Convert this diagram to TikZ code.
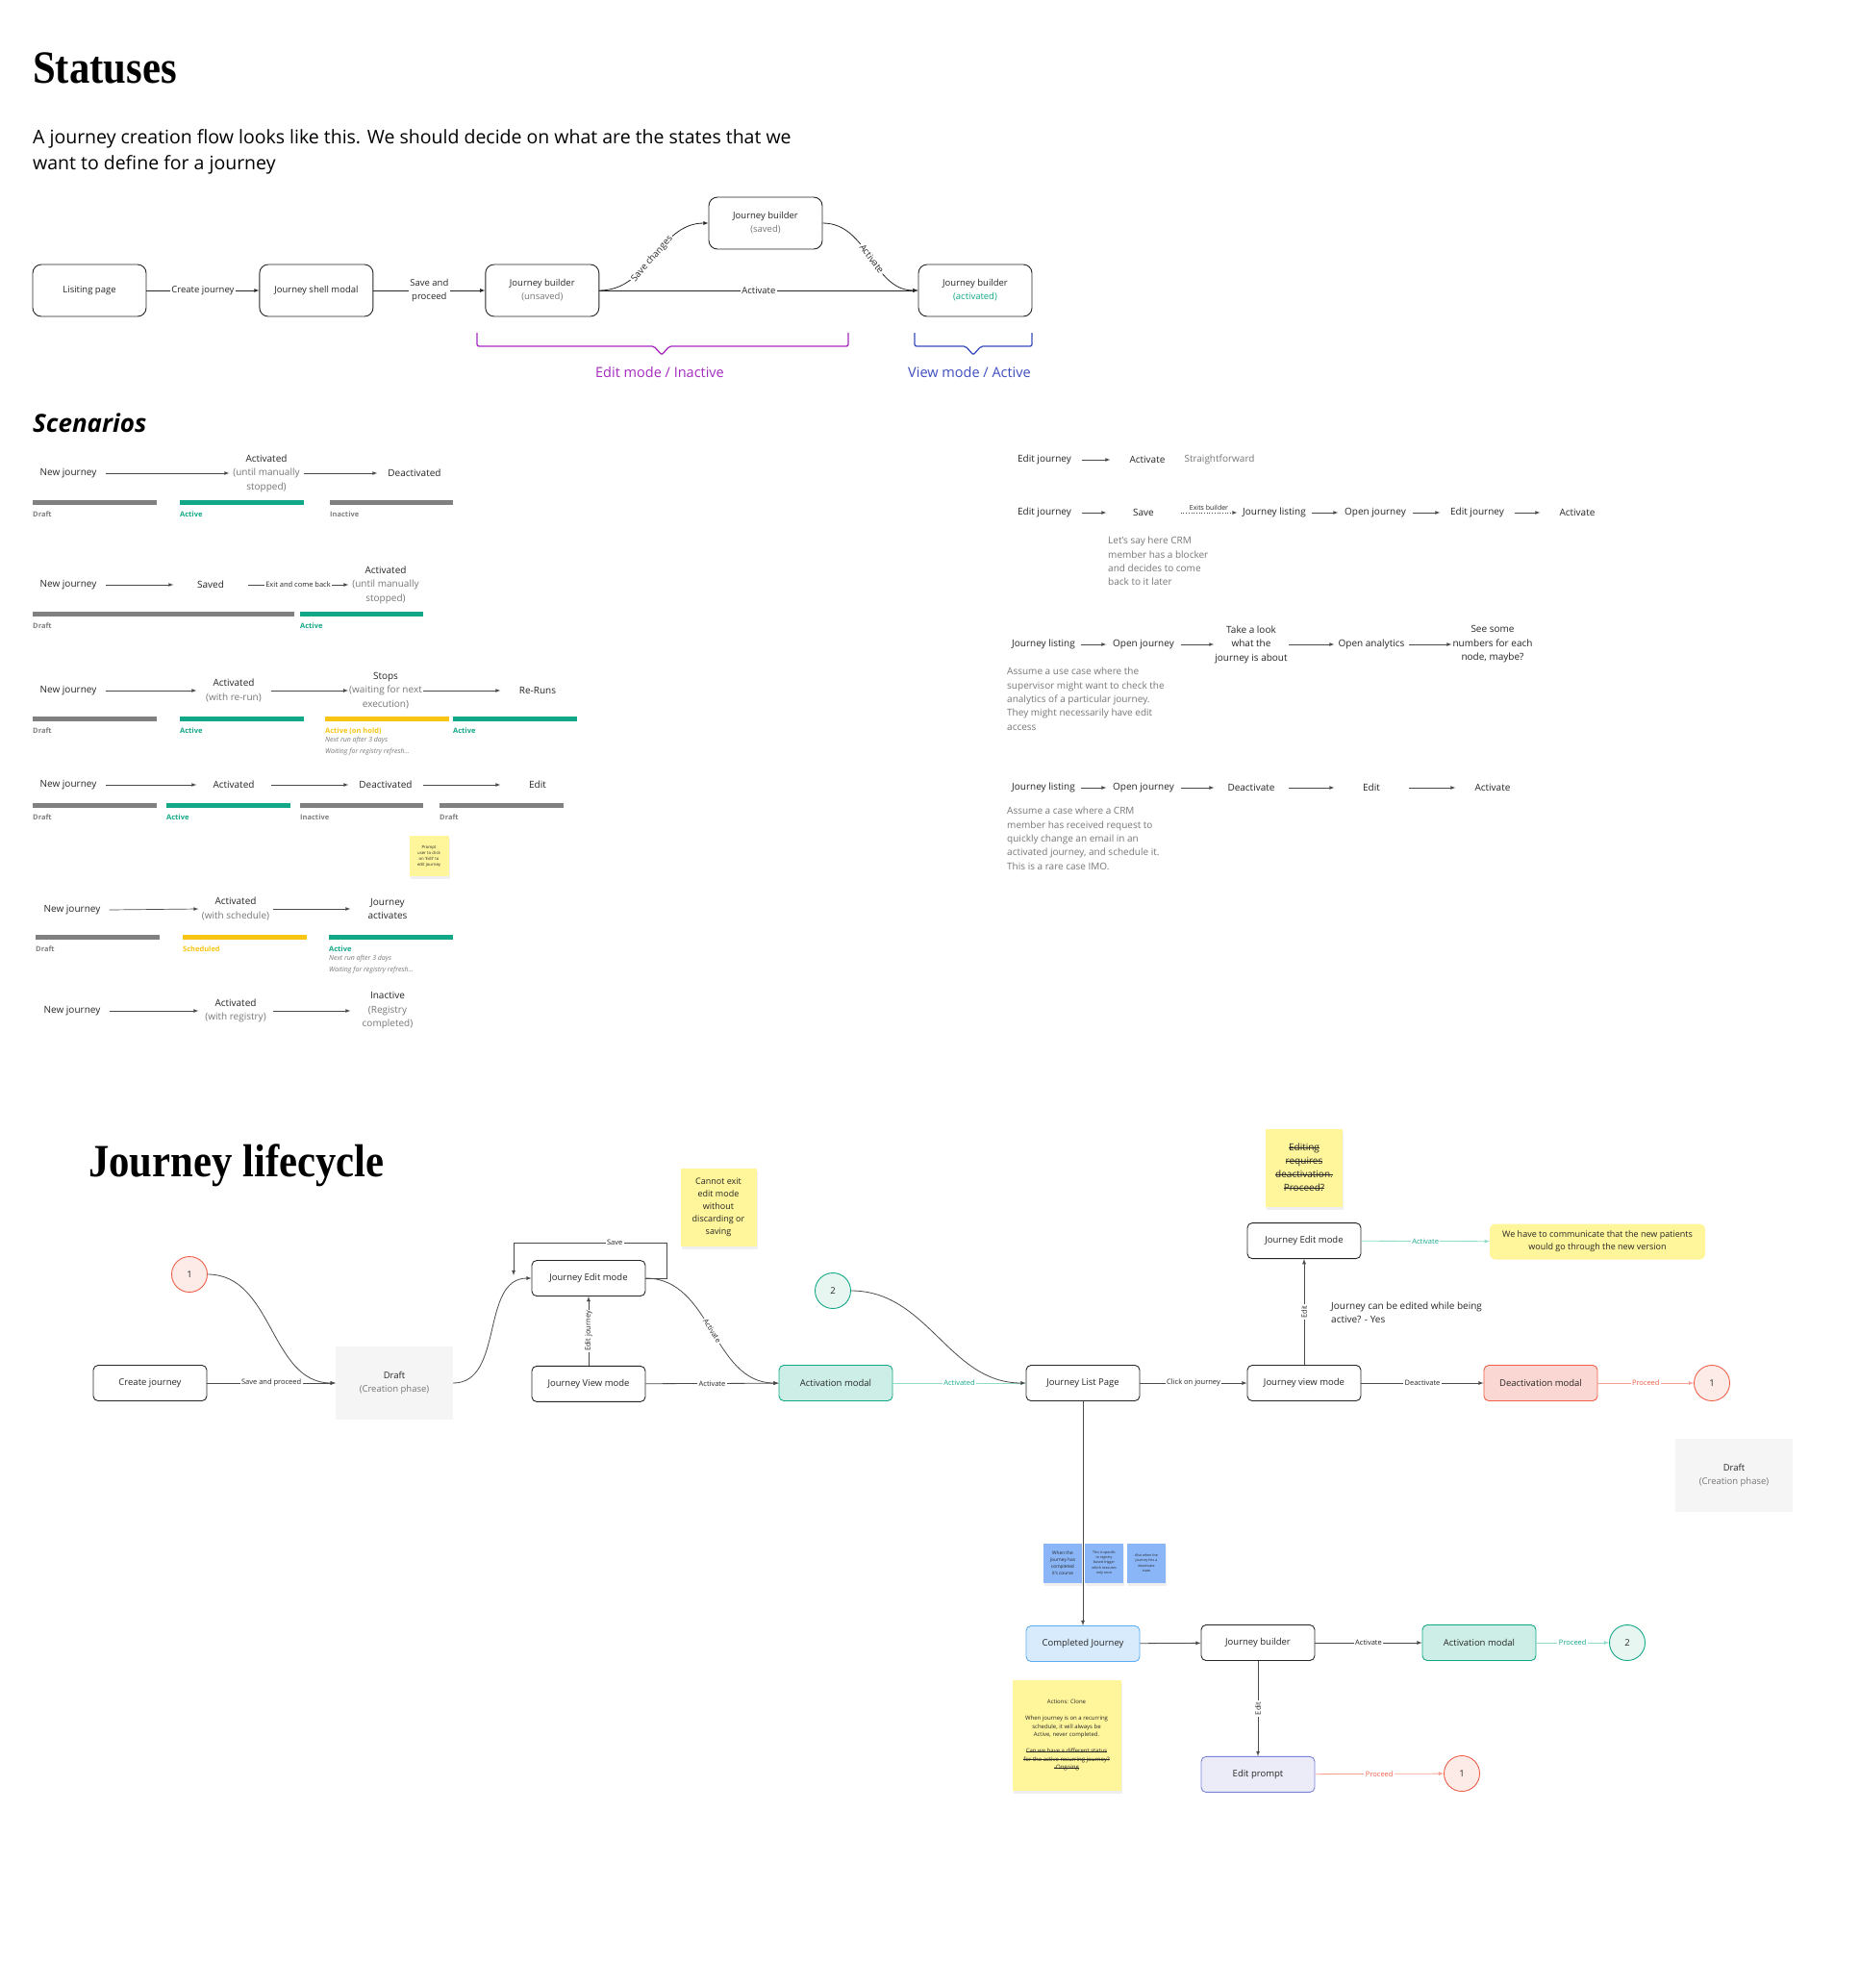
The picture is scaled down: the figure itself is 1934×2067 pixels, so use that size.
\documentclass[tikz,border=0pt]{standalone}
\usepackage{fontspec}
\setmainfont{Open Sans}
\newfontfamily\headfont{Liberation Serif}
\usepackage{graphicx}
\usepackage{xcolor}
\usetikzlibrary{positioning, shadows}

\definecolor{ink}{HTML}{262626}
\definecolor{edgegray}{HTML}{4A4A4A}
\definecolor{subgray}{HTML}{777777}
\definecolor{bargray}{HTML}{808080}
\definecolor{teal1}{HTML}{12A887}
\definecolor{tealfill}{HTML}{CDEEE6}
\definecolor{teallight}{HTML}{8FDCC8}
\definecolor{tealcirc}{HTML}{E8F6F2}
\definecolor{amber}{HTML}{F9C513}
\definecolor{redline}{HTML}{F0604B}
\definecolor{redfill}{HTML}{FAD7D2}
\definecolor{redcirc}{HTML}{FDEBE8}
\definecolor{redlight}{HTML}{F7A093}
\definecolor{purp}{HTML}{A42BBE}
\definecolor{indig}{HTML}{3D4DBF}
\definecolor{stickyyellow}{HTML}{FFF59B}
\definecolor{stickyblue}{HTML}{8AB6F7}
\definecolor{bluefill}{HTML}{D8EBFC}
\definecolor{blueline}{HTML}{5DADF2}
\definecolor{lavfill}{HTML}{ECECF8}
\definecolor{lavline}{HTML}{7C82D8}
\definecolor{draftfill}{HTML}{F5F5F5}

\newcommand{\gtxt}[1]{\textcolor{subgray}{#1}}
\newcommand{\fsz}[2]{\fontsize{#1}{#2}\selectfont}
\newsavebox{\strkbox}
\newcommand{\strk}[1]{\sbox{\strkbox}{#1}\rlap{\raisebox{0.27em}{\rule{\wd\strkbox}{0.07em}}}\usebox{\strkbox}}

\begin{document}
\begin{tikzpicture}[x=1pt, y=1pt, >=latex, node distance=116pt,
    box/.style={draw=ink, line width=0.9pt, rounded corners=9pt, minimum width=118pt, minimum height=54pt, align=center, font=\fsz{9.5}{14}, text=ink},
    lbox/.style={draw=ink, line width=0.9pt, rounded corners=5pt, minimum width=118pt, minimum height=37pt, align=center, font=\fsz{9.5}{13}, text=ink},
    draftbox/.style={fill=draftfill, minimum width=122pt, minimum height=76pt, align=center, font=\fsz{9.5}{14}, text=ink},
    circ/.style={circle, line width=0.9pt, minimum size=37pt, inner sep=0pt, font=\fsz{9.5}{12}, text=ink},
    link/.style={draw=edgegray, line width=0.8pt},
    flow/.style={->, draw=edgegray, line width=0.7pt},
    elbl/.style={fill=white, inner sep=1.5pt, align=center, font=\fsz{9.5}{14}, text=ink},
    slbl/.style={fill=white, inner sep=1.5pt, font=\fsz{7.5}{9}, text=ink},
    stage/.style={minimum width=77pt, inner sep=1pt, align=center, font=\fsz{10}{14.5}, text=ink},
    note/.style={anchor=north west, inner sep=0pt, align=left, font=\fsz{10}{14.3}, text=subgray},
    bar/.style={line width=5pt},
    barlbl/.style={anchor=base west, inner sep=0pt, font=\bfseries\fsz{7.5}{9}},
    italnote/.style={anchor=north west, inner sep=0pt, align=left, font=\itshape\fsz{7}{11.5}, text=subgray},
    sticky/.style={fill=stickyyellow, align=center, text=ink, drop shadow={opacity=0.12, shadow xshift=1pt, shadow yshift=-3pt}},
    bluesticky/.style={fill=stickyblue, minimum width=40pt, minimum height=41pt, inner sep=1pt, align=center, text=ink, drop shadow={opacity=0.12, shadow xshift=1pt, shadow yshift=-3pt}}]

    \fill[white] (0,0) rectangle (1934,-2067);
    \useasboundingbox (0,0) rectangle (1934,-2067);

    % Statuses
    \node[anchor=base west, inner sep=0pt, font=\headfont\bfseries\fsz{48}{50}, text=black] (statuses) at (34,-86) {\scalebox{0.89}[1]{Statuses}};
    \node[anchor=north west, inner sep=0pt, align=left, font=\fsz{19.5}{27.5}, text=black] (intro) at (34,-134) {A journey creation flow looks like this. We should decide on what are the states that we\\want to define for a journey};

    % Nodes
    \node[box] (listing) at (93,-302) {Lisiting page};
    \node[box, right=117pt of listing] (shell) {Journey shell modal};
    \node[box, right=of shell] (unsaved) {Journey builder\\\gtxt{(unsaved)}};
    \node[box] (saved) at (796,-232) {Journey builder\\\gtxt{(saved)}};
    \node[box] (activated) at (1014,-302) {Journey builder\\\textcolor{teal1}{(activated)}};

    % Arrows
    \draw[->, link, draw=ink] (listing) -- node[elbl] (lcreate) {Create journey} (shell);
    \draw[->, link, draw=ink] (shell) -- node[elbl] (lsave) {Save and\\proceed} (unsaved);
    \draw[->, link, draw=ink] (unsaved) -- node[elbl] (lact) {Activate} (activated);
    \draw[->, link, draw=ink] (unsaved.east) to[out=0, in=180] node[elbl, sloped, pos=0.48] (lchanges) {Save changes} (saved.west);
    \draw[->, link, draw=ink] (saved.east) to[out=0, in=180] node[elbl, sloped, pos=0.52] (lact2) {Activate} (activated.west);

    % Braces
    \draw[purp, line width=1.3pt, rounded corners=2pt] (496,-346) -- (496,-360) -- (680,-360) -- (688,-369) -- (696,-360) -- (882,-360) -- (882,-346);
    \node[font=\fsz{14.5}{17}, text=purp] (editlbl) at (686,-387) {Edit mode / Inactive};
    \draw[indig, line width=1.3pt, rounded corners=2pt] (951,-346) -- (951,-360) -- (1004,-360) -- (1012,-369) -- (1020,-360) -- (1073,-360) -- (1073,-346);
    \node[font=\fsz{14.5}{17}, text=indig] (viewlbl) at (1008,-387) {View mode / Active};

    % Scenarios
    \node[anchor=base west, inner sep=0pt, font=\bfseries\itshape\fsz{26}{30}, text=black] (scenarios) at (34,-449) {Scenarios};

    % row 1
    \node[stage] (s1a) at (71,-492) {New journey};
    \node[stage] (s1b) at (277,-492) {Activated\\\gtxt{(until manually}\\\gtxt{stopped)}};
    \node[stage] (s1c) at (431,-492) {Deactivated};
    \draw[flow] (s1a.east) -- (s1b.west);
    \draw[flow] (s1b.east) -- (s1c.west);
    \draw[bar, bargray] (34,-522) -- (163,-522);
    \draw[bar, teal1] (187,-522) -- (316,-522);
    \draw[bar, bargray] (343,-522) -- (471,-522);
    \node[barlbl, text=bargray] (b1a) at (34,-537) {Draft};
    \node[barlbl, text=teal1] (b1b) at (187,-537) {Active};
    \node[barlbl, text=bargray] (b1c) at (343,-537) {Inactive};

    % row 2
    \node[stage] (s2a) at (71,-608) {New journey};
    \node[stage] (s2b) at (219,-608) {Saved};
    \node[stage] (s2c) at (401,-608) {Activated\\\gtxt{(until manually}\\\gtxt{stopped)}};
    \draw[flow] (s2a.east) -- (s2b.west);
    \draw[flow] (s2b.east) -- node[fill=white, inner sep=1.5pt, font=\fsz{7.5}{9}, text=ink] (s2lbl) {Exit and come back} (s2c.west);
    \draw[bar, bargray] (34,-638) -- (306,-638);
    \draw[bar, teal1] (312,-638) -- (440,-638);
    \node[barlbl, text=bargray] (b2a) at (34,-653) {Draft};
    \node[barlbl, text=teal1] (b2b) at (312,-653) {Active};

    % row 3
    \node[stage] (s3a) at (71,-718) {New journey};
    \node[stage] (s3b) at (243,-718) {Activated\\\gtxt{(with re-run)}};
    \node[stage] (s3c) at (401,-718) {Stops\\\gtxt{(waiting for next}\\\gtxt{execution)}};
    \node[stage] (s3d) at (559,-718) {Re-Runs};
    \draw[flow] (s3a.east) -- (s3b.west);
    \draw[flow] (s3b.east) -- (s3c.west);
    \draw[flow] (s3c.east) -- (s3d.west);
    \draw[bar, bargray] (34,-747) -- (163,-747);
    \draw[bar, teal1] (187,-747) -- (316,-747);
    \draw[bar, amber] (338,-747) -- (467,-747);
    \draw[bar, teal1] (471,-747) -- (600,-747);
    \node[barlbl, text=bargray] (b3a) at (34,-762) {Draft};
    \node[barlbl, text=teal1] (b3b) at (187,-762) {Active};
    \node[barlbl, text=amber] (b3c) at (338,-762) {Active (on hold)};
    \node[barlbl, text=teal1] (b3d) at (471,-762) {Active};
    \node[italnote] (n3) at (338,-766) {Next run after 3 days\\Waiting for registry refresh...};

    % row 4
    \node[stage] (s4a) at (71,-816) {New journey};
    \node[stage] (s4b) at (243,-816) {Activated};
    \node[stage] (s4c) at (401,-816) {Deactivated};
    \node[stage] (s4d) at (559,-816) {Edit};
    \draw[flow] (s4a.east) -- (s4b.west);
    \draw[flow] (s4b.east) -- (s4c.west);
    \draw[flow] (s4c.east) -- (s4d.west);
    \draw[bar, bargray] (34,-837) -- (163,-837);
    \draw[bar, teal1] (173,-837) -- (302,-837);
    \draw[bar, bargray] (312,-837) -- (440,-837);
    \draw[bar, bargray] (457,-837) -- (586,-837);
    \node[barlbl, text=bargray] (b4a) at (34,-852) {Draft};
    \node[barlbl, text=teal1] (b4b) at (173,-852) {Active};
    \node[barlbl, text=bargray] (b4c) at (312,-852) {Inactive};
    \node[barlbl, text=bargray] (b4d) at (457,-852) {Draft};
    \node[sticky, minimum width=41pt, minimum height=42pt, inner sep=1pt, font=\fsz{4.3}{6}] (editprompt) at (446,-890) {Prompt\\user to click\\on ‘Edit’ to\\edit journey};

    % row 5
    \node[stage] (s5a) at (75,-946) {New journey};
    \node[stage] (s5b) at (245,-945) {Activated\\\gtxt{(with schedule)}};
    \node[stage] (s5c) at (403,-945) {Journey\\activates};
    \draw[flow] (s5a.east) -- (s5b.west);
    \draw[flow] (s5b.east) -- (s5c.west);
    \draw[bar, bargray] (37,-974) -- (166,-974);
    \draw[bar, amber] (190,-974) -- (319,-974);
    \draw[bar, teal1] (342,-974) -- (471,-974);
    \node[barlbl, text=bargray] (b5a) at (37,-989) {Draft};
    \node[barlbl, text=amber] (b5b) at (190,-989) {Scheduled};
    \node[barlbl, text=teal1] (b5c) at (342,-989) {Active};
    \node[italnote] (n5) at (342,-993) {Next run after 3 days\\Waiting for registry refresh...};

    % row 6
    \node[stage] (s6a) at (75,-1051) {New journey};
    \node[stage] (s6b) at (245,-1051) {Activated\\\gtxt{(with registry)}};
    \node[stage] (s6c) at (403,-1051) {Inactive\\\gtxt{(Registry}\\\gtxt{completed)}};
    \draw[flow] (s6a.east) -- (s6b.west);
    \draw[flow] (s6b.east) -- (s6c.west);

    % right scenarios
    \node[stage] (r1a) at (1086,-478) {Edit journey};
    \node[stage] (r1b) at (1193,-478) {Activate};
    \node[stage, text=subgray] (r1c) at (1268,-478) {Straightforward};
    \draw[flow] (r1a.east) -- (r1b.west);

    \node[stage] (r2a) at (1086,-533) {Edit journey};
    \node[stage] (r2b) at (1189,-533) {Save};
    \node[stage] (r2c) at (1325,-533) {Journey listing};
    \node[stage] (r2d) at (1430,-533) {Open journey};
    \node[stage] (r2e) at (1536,-533) {Edit journey};
    \node[stage] (r2f) at (1640,-533) {Activate};
    \draw[flow] (r2a.east) -- (r2b.west);
    \draw[flow, dotted] (r2b.east) -- node[above, inner sep=2pt, font=\fsz{7}{8}, text=ink] (exits) {Exits builder} (r2c.west);
    \draw[flow] (r2c.east) -- (r2d.west);
    \draw[flow] (r2d.east) -- (r2e.west);
    \draw[flow] (r2e.east) -- (r2f.west);
    \node[note] (r2n) at (1152,-558) {Let’s say here CRM\\member has a blocker\\and decides to come\\back to it later};

    \node[stage] (r3a) at (1085,-670) {Journey listing};
    \node[stage] (r3b) at (1189,-670) {Open journey};
    \node[stage] (r3c) at (1301,-670) {Take a look\\what the\\journey is about};
    \node[stage] (r3d) at (1426,-670) {Open analytics};
    \node[stage] (r3e) at (1552,-670) {See some\\numbers for each\\node, maybe?};
    \draw[flow] (r3a.east) -- (r3b.west);
    \draw[flow] (r3b.east) -- (r3c.west);
    \draw[flow] (r3c.east) -- (r3d.west);
    \draw[flow] (r3d.east) -- (r3e.west);
    \node[note] (r3n) at (1047,-694) {Assume a use case where the\\supervisor might want to check the\\analytics of a particular journey.\\They might necessarily have edit\\access};

    \node[stage] (r4a) at (1085,-819) {Journey listing};
    \node[stage] (r4b) at (1189,-819) {Open journey};
    \node[stage] (r4c) at (1301,-819) {Deactivate};
    \node[stage] (r4d) at (1426,-819) {Edit};
    \node[stage] (r4e) at (1552,-819) {Activate};
    \draw[flow] (r4a.east) -- (r4b.west);
    \draw[flow] (r4b.east) -- (r4c.west);
    \draw[flow] (r4c.east) -- (r4d.west);
    \draw[flow] (r4d.east) -- (r4e.west);
    \node[note] (r4n) at (1047,-839) {Assume a case where a CRM\\member has received request to\\quickly change an email in an\\activated journey, and schedule it.\\This is a rare case IMO.};

    % Journey lifecycle
    \node[anchor=base west, inner sep=0pt, font=\headfont\bfseries\fsz{48}{50}, text=black] (lifecycle) at (92,-1223) {\scalebox{0.89}[1]{Journey lifecycle}};

    % Nodes
    \node[circ, draw=redline, fill=redcirc] (one1) at (197,-1325) {1};
    \node[lbox] (create) at (156,-1438) {Create journey};
    \node[draftbox] (draft) at (410,-1438) {Draft\\\gtxt{(Creation phase)}};
    \node[lbox] (editA) at (612,-1329) {Journey Edit mode};
    \node[lbox, below=72pt of editA] (viewA) {Journey View mode};
    \node[lbox, fill=tealfill, draw=teal1] (actA) at (869,-1438) {Activation modal};
    \node[circ, draw=teal1, fill=tealcirc] (two1) at (866,-1342) {2};
    \node[sticky, minimum width=79pt, minimum height=81pt, font=\fsz{9}{13}] (cannot) at (747,-1255) {Cannot exit\\edit mode\\without\\discarding or\\saving};
    \coordinate (saveend) at (534,-1326);

    \node[lbox] (list) at (1126,-1438) {Journey List Page};
    \node[lbox] (viewB) at (1356,-1438) {Journey view mode};
    \node[lbox, above=110pt of viewB] (editB) {Journey Edit mode};
    \node[sticky, minimum width=80pt, minimum height=81pt, font=\fsz{10}{14}] (strikenote) at (1356,-1214) {\strk{Editing}\\\strk{requires}\\\strk{deactivation.}\\\strk{Proceed?}};
    \node[anchor=north west, inner sep=0pt, align=left, font=\fsz{10}{14}, text=ink] (whileactive) at (1384,-1354) {Journey can be edited while being\\active? - Yes};
    \node[fill=stickyyellow, rounded corners=6pt, minimum width=224pt, minimum height=37pt, align=center, font=\fsz{9}{13}, text=ink] (comm) at (1661,-1291) {We have to communicate that the new patients\\would go through the new version};
    \node[lbox, fill=redfill, draw=redline] (deact) at (1602,-1438) {Deactivation modal};
    \node[circ, draw=redline, fill=redcirc] (one2) at (1780,-1438) {1};
    \node[draftbox] (draft2) at (1803,-1534) {Draft\\\gtxt{(Creation phase)}};

    \node[bluesticky, font=\fsz{4.8}{7}] (bs1) at (1105,-1625) {When the\\journey has\\completed\\it's course};
    \node[bluesticky, font=\fsz{3.6}{5.3}] (bs2) at (1148,-1625) {This is specific\\to registry\\based trigger\\which executes\\only once};
    \node[bluesticky, font=\fsz{3.6}{5.3}] (bs3) at (1192,-1625) {Also when the\\journey hits a\\deactivate\\state};

    \node[lbox, fill=bluefill, draw=blueline] (done) at (1126,-1709) {Completed Journey};
    \node[lbox] (builder) at (1308,-1708) {Journey builder};
    \node[lbox, fill=tealfill, draw=teal1] (actB) at (1538,-1708) {Activation modal};
    \node[circ, draw=teal1, fill=tealcirc] (two2) at (1692,-1708) {2};
    \node[lbox, fill=lavfill, draw=lavline, below=99pt of builder] (prompt) {Edit prompt};
    \node[circ, draw=redline, fill=redcirc] (one3) at (1520,-1844) {1};
    \node[sticky, minimum width=113pt, minimum height=115pt, font=\fsz{6}{8.5}] (clone) at (1109,-1804) {Actions: Clone\\[8.5pt]When journey is on a recurring\\schedule, it will always be\\Active, never completed.\\[8.5pt]\strk{Can we have a different status}\\\strk{for the active recurring journey?}\\\strk{-Ongoing}};

    % Arrows
    \draw[->, link] (create) -- node[slbl] (e1) {Save and proceed} (draft);
    \draw[->, link] (one1.east) to[out=0, in=180] (draft.west);
    \draw[->, link] (draft.east) to[out=0, in=180] (editA.west);
    \draw[->, link] (viewA) -- node[slbl, rotate=90] (e2) {Edit journey} (editA);
    \draw[->, link] (editA.east) -- ++(22,0) -- ++(0,37) -| node[slbl, pos=0.17] (e5) {Save} (saveend);
    \draw[->, link] (viewA) -- node[slbl] (e3) {Activate} (actA);
    \draw[->, link] (editA.east) to[out=0, in=180] node[slbl, sloped] (e4) {Activate} (actA.west);
    \draw[->, link, draw=teallight] (actA) -- node[slbl, text=teal1] (e6) {Activated} (list);
    \draw[->, link] (two1.east) to[out=0, in=180] (list.west);
    \draw[->, link] (list) -- node[slbl] (e7) {Click on journey} (viewB);
    \draw[->, link] (viewB) -- node[slbl, rotate=90] (e8) {Edit} (editB);
    \draw[->, link, draw=teallight] (editB) -- node[slbl, text=teal1] (e9) {Activate} (comm);
    \draw[->, link] (viewB) -- node[slbl] (e10) {Deactivate} (deact);
    \draw[->, link, draw=redlight] (deact) -- node[slbl, text=redline] (e11) {Proceed} (one2);
    \draw[->, link] (list) -- (done);
    \draw[->, link] (done) -- (builder);
    \draw[->, link] (builder) -- node[slbl] (e12) {Activate} (actB);
    \draw[->, link, draw=teallight] (actB) -- node[slbl, text=teal1] (e13) {Proceed} (two2);
    \draw[->, link] (builder) -- node[slbl, rotate=90] (e14) {Edit} (prompt);
    \draw[->, link, draw=redlight] (prompt) -- node[slbl, text=redline] (e15) {Proceed} (one3);
\end{tikzpicture}
\end{document}
